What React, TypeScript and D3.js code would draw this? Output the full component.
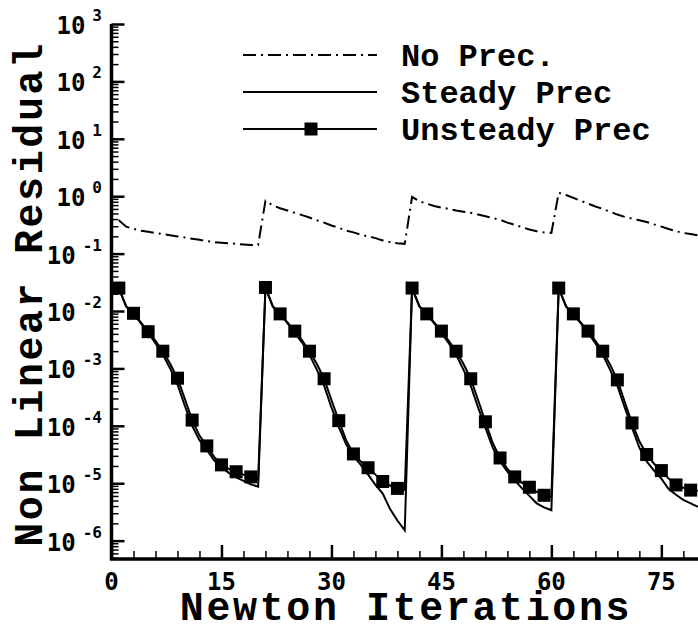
import * as d3 from "d3";
import { useEffect, useRef } from "react";

// Newton iterations 1..80 (four time steps of 20 iterations)
const iterations = d3.range(1, 81);

// residuals stored as log10 exponents
const noPrecExp = [
  -0.42, -0.53, -0.57, -0.6, -0.62, -0.64, -0.66, -0.68, -0.7, -0.72, -0.74, -0.76, -0.78, -0.8, -0.81, -0.82, -0.83, -0.84, -0.85, -0.85,
  -0.08, -0.16, -0.21, -0.25, -0.29, -0.33, -0.37, -0.42, -0.46, -0.51, -0.55, -0.6, -0.63, -0.67, -0.7, -0.73, -0.77, -0.8, -0.82, -0.83,
  -0.01, -0.09, -0.13, -0.17, -0.2, -0.22, -0.25, -0.27, -0.29, -0.32, -0.35, -0.38, -0.41, -0.46, -0.5, -0.54, -0.58, -0.61, -0.63, -0.64,
  0.06, 0.02, -0.03, -0.08, -0.13, -0.18, -0.22, -0.27, -0.32, -0.36, -0.39, -0.42, -0.45, -0.49, -0.53, -0.57, -0.61, -0.64, -0.66, -0.68,
];

const steadyExp = [
  -1.6, -1.92, -2.05, -2.21, -2.38, -2.56, -2.76, -3.0, -3.28, -3.65, -4.0, -4.25, -4.42, -4.6, -4.72, -4.82, -4.9, -4.96, -5.02, -5.06,
  -1.59, -1.92, -2.06, -2.21, -2.38, -2.55, -2.76, -3.02, -3.3, -3.68, -4.02, -4.32, -4.52, -4.68, -4.85, -5.03, -5.18, -5.45, -5.65, -5.82,
  -1.6, -1.92, -2.06, -2.21, -2.38, -2.56, -2.76, -3.02, -3.3, -3.68, -4.03, -4.38, -4.62, -4.8, -4.95, -5.09, -5.22, -5.35, -5.42, -5.47,
  -1.6, -1.92, -2.06, -2.21, -2.38, -2.56, -2.76, -3.02, -3.3, -3.68, -4.03, -4.38, -4.62, -4.78, -4.92, -5.1, -5.2, -5.29, -5.35, -5.41,
];

const unsteadyExp = [
  -1.6, -1.92, -2.04, -2.2, -2.36, -2.52, -2.7, -2.92, -3.17, -3.53, -3.9, -4.17, -4.35, -4.54, -4.68, -4.75, -4.8, -4.85, -4.89, -4.94,
  -1.59, -1.92, -2.05, -2.2, -2.35, -2.51, -2.7, -2.92, -3.18, -3.55, -3.91, -4.25, -4.49, -4.62, -4.73, -4.85, -4.97, -5.04, -5.09, -5.12,
  -1.6, -1.92, -2.05, -2.2, -2.35, -2.52, -2.7, -2.92, -3.18, -3.55, -3.93, -4.3, -4.56, -4.75, -4.89, -4.99, -5.07, -5.15, -5.21, -5.24,
  -1.6, -1.92, -2.05, -2.2, -2.35, -2.52, -2.7, -2.93, -3.2, -3.58, -3.95, -4.27, -4.5, -4.66, -4.78, -4.92, -5.03, -5.08, -5.12, -5.13,
];

// symbols drawn on every other iteration
const markerIterations = d3.range(1, 80, 2);

const xMajorTicks = [0, 15, 30, 45, 60, 75];
const xMinorTicks = d3.range(0, 81, 3);
const yDecades = [-6, -5, -4, -3, -2, -1, 0, 1, 2, 3];

const legendLabels = ["No Prec.", "Steady Prec", "Unsteady Prec"];

const W = 698;
const H = 627;
const MONO = "'Liberation Mono', 'Courier New', monospace";
const TICKFONT = "'DejaVu Sans Mono', monospace";

const App = () => {
  const chartRef = useRef<SVGSVGElement | null>(null);

  useEffect(() => {
    drawChart();
  }, []);

  const drawChart = () => {
    if (!chartRef.current) return;
    const svg = d3.select(chartRef.current);
    svg.selectAll("*").remove();

    const x = d3.scaleLinear().domain([0, 80]).range([111.5, 698]);
    const y = d3.scaleLog().domain([Math.pow(10, -6.32), 1e3]).range([559, 24]);
    const [yMin, yMax] = y.domain();

    const toPoints = (exps: number[]) => iterations.map((it, i) => ({ it, v: Math.pow(10, exps[i]) }));
    const noPrec = toPoints(noPrecExp);
    const steady = toPoints(steadyExp);
    const unsteady = toPoints(unsteadyExp);

    const line = d3
      .line<{ it: number; v: number }>()
      .x((d) => x(d.it))
      .y((d) => y(d.v));

    const dashDot = "13,5,2,5";

    // lines
    svg
      .append("path")
      .datum(noPrec)
      .attr("d", line)
      .attr("fill", "none")
      .attr("stroke", "#000")
      .attr("stroke-width", 2)
      .attr("stroke-dasharray", dashDot);

    svg.append("path").datum(steady).attr("d", line).attr("fill", "none").attr("stroke", "#000").attr("stroke-width", 2);
    svg.append("path").datum(unsteady).attr("d", line).attr("fill", "none").attr("stroke", "#000").attr("stroke-width", 2);

    const ms = 13;
    svg
      .append("g")
      .selectAll("rect")
      .data(unsteady.filter((d) => markerIterations.includes(d.it)))
      .join("rect")
      .attr("x", (d) => x(d.it) - ms / 2)
      .attr("y", (d) => y(d.v) - ms / 2)
      .attr("width", ms)
      .attr("height", ms)
      .attr("fill", "#000");

    // y minor ticks (2..9 per decade)
    const yMinor: number[] = [];
    for (let d = -7; d <= 2; d++) {
      for (let k = 2; k <= 9; k++) {
        const v = k * Math.pow(10, d);
        if (v >= yMin && v <= yMax) yMinor.push(v);
      }
    }

    const yMinorG = svg
      .append("g")
      .attr("transform", `translate(${x(0)},0)`)
      .call(d3.axisLeft(y).tickValues(yMinor).tickSize(-7).tickSizeOuter(0).tickFormat(() => ""));
    yMinorG.select(".domain").remove();
    yMinorG.selectAll("line").attr("stroke-width", 1.5);

    const yMajorG = svg
      .append("g")
      .attr("transform", `translate(${x(0)},0)`)
      .call(
        d3
          .axisLeft(y)
          .tickValues(yDecades.map((e) => Math.pow(10, e)))
          .tickSize(-13)
          .tickSizeOuter(0)
          .tickFormat(() => "")
      );
    yMajorG.select(".domain").remove();
    yMajorG.selectAll("line").attr("stroke-width", 2.5);

    // x ticks
    const xMinorG = svg
      .append("g")
      .attr("transform", `translate(0,${y(yMin)})`)
      .call(d3.axisBottom(x).tickValues(xMinorTicks).tickSize(-8).tickSizeOuter(0).tickFormat(() => ""));
    xMinorG.select(".domain").remove();
    xMinorG.selectAll("line").attr("stroke-width", 1.5);

    const xMajorG = svg
      .append("g")
      .attr("transform", `translate(0,${y(yMin)})`)
      .call(d3.axisBottom(x).tickValues(xMajorTicks).tickSize(-14).tickSizeOuter(0).tickFormat(() => ""));
    xMajorG.select(".domain").remove();
    xMajorG.selectAll("line").attr("stroke-width", 2.5);

    // axis lines
    svg
      .append("path")
      .attr("d", `M${x(0)},${y(yMax)}V${y(yMin)}H${W}`)
      .attr("fill", "none")
      .attr("stroke", "#000")
      .attr("stroke-width", 3.5)
      .attr("stroke-linejoin", "miter");

    // x tick labels
    svg
      .append("g")
      .selectAll("text")
      .data(xMajorTicks)
      .join("text")
      .attr("x", (d) => x(d))
      .attr("y", 590)
      .attr("text-anchor", "middle")
      .style("font-family", TICKFONT)
      .style("font-weight", "bold")
      .style("font-size", "24px")
      .text((d) => String(d));

    // y tick labels 10^n
    const yLab = svg
      .append("g")
      .selectAll("text")
      .data(yDecades)
      .join("text")
      .attr("x", 102)
      .attr("y", (d) => y(Math.pow(10, d)) + 10)
      .attr("text-anchor", "end")
      .style("font-family", TICKFONT)
      .style("font-weight", "bold")
      .style("font-size", "24px");
    yLab.append("tspan").text("10");
    yLab
      .append("tspan")
      .attr("dx", 7)
      .attr("dy", -13)
      .style("font-size", "16px")
      .text((d) => String(d));

    // axis titles
    svg
      .append("text")
      .attr("transform", `translate(42,294) rotate(-90)`)
      .attr("text-anchor", "middle")
      .style("font-family", MONO)
      .style("font-weight", "bold")
      .style("font-size", "40px")
      .style("letter-spacing", "2.6px")
      .text("Non Linear Residual");

    svg
      .append("text")
      .attr("x", 406)
      .attr("y", 620)
      .attr("text-anchor", "middle")
      .style("font-family", MONO)
      .style("font-weight", "bold")
      .style("font-size", "40px")
      .style("letter-spacing", "2.6px")
      .text("Newton Iterations");

    // legend
    const legendY = [55, 92, 129];
    const lg = svg.append("g");
    legendLabels.forEach((label, i) => {
      const ly = legendY[i];
      lg.append("line")
        .attr("x1", 243)
        .attr("x2", 377)
        .attr("y1", ly)
        .attr("y2", ly)
        .attr("stroke", "#000")
        .attr("stroke-width", 2)
        .attr("stroke-dasharray", i === 0 ? dashDot : null);
      if (i === 2) {
        lg.append("rect")
          .attr("x", 311 - ms / 2)
          .attr("y", ly - ms / 2)
          .attr("width", ms)
          .attr("height", ms)
          .attr("fill", "#000");
      }
      lg.append("text")
        .attr("x", 401)
        .attr("y", ly + 11)
        .style("font-family", MONO)
        .style("font-weight", "bold")
        .style("font-size", "32px")
        .text(label);
    });
  };

  return (
    <svg
      ref={chartRef}
      width={W}
      height={H}
      style={{ position: "absolute", left: 0, top: 0, background: "#fff" }}
    />
  );
};

export default App;
